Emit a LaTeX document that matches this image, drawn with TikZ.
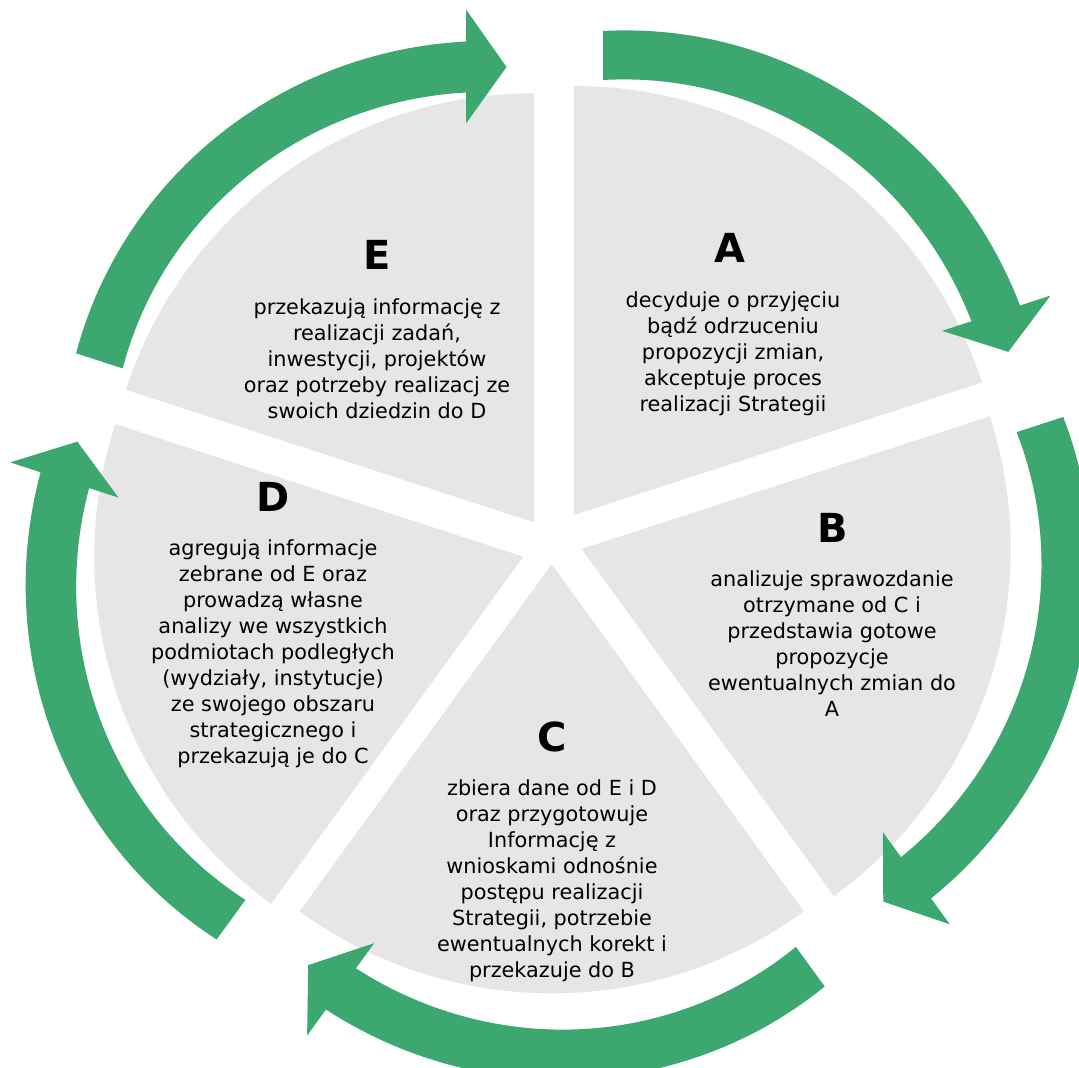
\documentclass[tikz,border=0pt]{standalone}
\usepackage{fontspec}
\setmainfont{DejaVu Sans}
\definecolor{arrowgreen}{RGB}{60,168,112}
\definecolor{piegrey}{RGB}{230,230,230}
\newcommand\cycarrow[4]{% #1 cx, #2 cy, #3 tail angle, #4 head angle
  \fill[arrowgreen]
    plot[domain=#3:#4, samples=60, variable=\t]
      ({#1+(410+28.5*(#3-\t)/72)*cos(\t)}, {#2+(410+28.5*(#3-\t)/72)*sin(\t)})
    -- ({#1+470.5*cos(#4)}, {#2+470.5*sin(#4)})
    -- ({#1+413*cos(#4)+40.5*sin(#4)}, {#2+413*sin(#4)-40.5*cos(#4)})
    -- ({#1+356.5*cos(#4)}, {#2+356.5*sin(#4)})
    -- plot[domain=#4:#3, samples=60, variable=\t]
      ({#1+(361+26.5*(#3-\t)/72)*cos(\t)}, {#2+(361+26.5*(#3-\t)/72)*sin(\t)})
    -- cycle;}
\newcommand\piesector[4]{% #1 x, #2 y, #3 start, #4 end
  \fill[piegrey] (#1,#2) -- ++(#3:429) arc[start angle=#3, end angle=#4, radius=429] -- cycle;}
\begin{document}
\begin{tikzpicture}[x=1pt,y=1pt,
  lab/.style={font=\fontsize{40}{40}\selectfont\bfseries, inner sep=0pt, anchor=center},
  body/.style={font=\fontsize{20.8}{26}\selectfont, inner sep=0pt, anchor=north, align=center}]
\useasboundingbox (0,0) rectangle (1079,1068);
% pie sectors
\piesector{574}{553}{18}{90}
\piesector{581.7}{519}{-54}{18}
\piesector{551.7}{503.7}{-126}{-54}
\piesector{523.3}{511.3}{162}{234}
\piesector{534}{545.7}{90}{162}
% circular arrows
\cycarrow{603}{627}{90}{18}
\cycarrow{673.3}{524.3}{18}{-54}
\cycarrow{583.7}{413.2}{-54}{-126}
\cycarrow{457.6}{460.2}{-126}{-198}
\cycarrow{466}{588}{162}{90}
% labels
\node[lab] (labA) at (730,820) {A};
\node[lab] (labB) at (832.6,540.5) {B};
\node[lab] (labC) at (552,331) {C};
\node[lab] (labD) at (273,571) {D};
\node[lab] (labE) at (377.5,813) {E};
% texts
\node[body] (txtA) at (733,781) {\rule{0pt}{20pt}decyduje o przyjęciu\\bądź odrzuceniu\\propozycji zmian,\\akceptuje proces\\realizacji Strategii};
\node[body] (txtB) at (832,502) {\rule{0pt}{20pt}analizuje sprawozdanie\\otrzymane od C i\\przedstawia gotowe\\propozycje\\ewentualnych zmian do\\A};
\node[body] (txtC) at (552,293) {\rule{0pt}{20pt}zbiera dane od E i D\\oraz przygotowuje\\Informację z\\wnioskami odnośnie\\postępu realizacji\\Strategii, potrzebie\\ewentualnych korekt i\\przekazuje do B};
\node[body] (txtD) at (273,533) {\rule{0pt}{20pt}agregują informacje\\zebrane od E oraz\\prowadzą własne\\analizy we wszystkich\\podmiotach podległych\\(wydziały, instytucje)\\ze swojego obszaru\\strategicznego i\\przekazują je do C};
\node[body] (txtE) at (377,774) {\rule{0pt}{20pt}przekazują informację z\\realizacji zadań,\\inwestycji, projektów\\oraz potrzeby realizacj ze\\swoich dziedzin do D};
\end{tikzpicture}
\end{document}
